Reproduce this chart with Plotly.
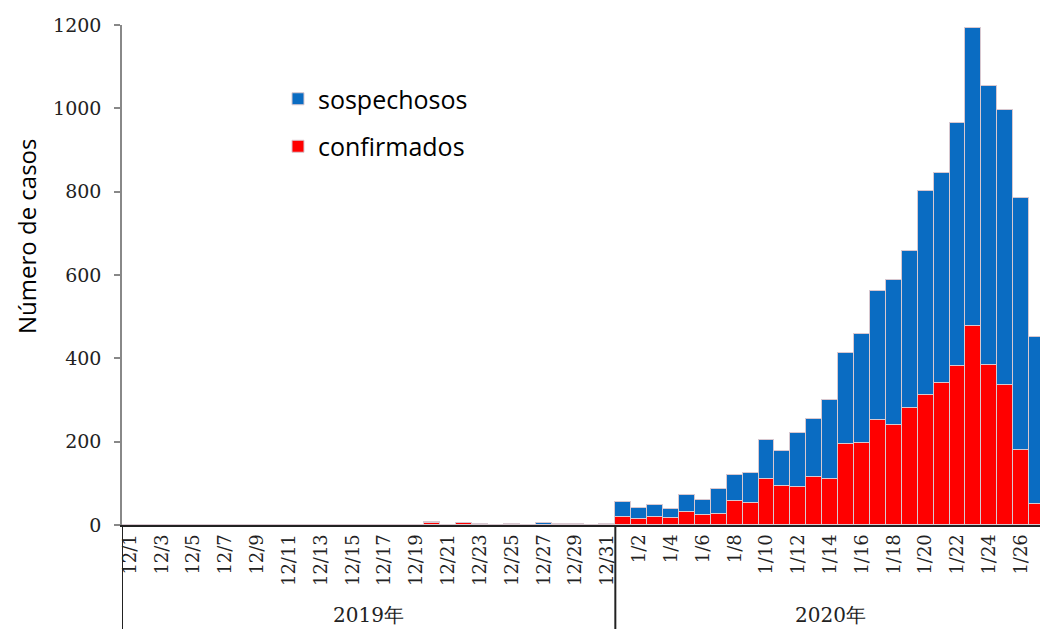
import plotly.graph_objects as go

# ---- data ----
fechas_2019 = [f"12/{d}" for d in range(1, 32)]
fechas_2020 = [f"1/{d}" for d in range(1, 28)]
fechas = fechas_2019 + fechas_2020

confirmados_2019 = [0]*19 + [6, 0, 5] + [0]*9
sospechosos_2019 = [0]*9 + [1] + [0]*4 + [1, 0, 1, 0, 0, 1, 0, 1, 2, 0, 2, 0, 6, 2, 2, 1, 2]

confirmados_2020 = [19, 14, 19, 17, 31, 24, 27, 58, 54, 110, 94, 92, 116, 110,
                    194, 198, 252, 240, 280, 312, 340, 382, 478, 384, 336, 180, 50]
sospechosos_2020 = [36, 28, 29, 22, 42, 37, 60, 62, 71, 94, 84, 128, 139, 190,
                    219, 260, 310, 348, 378, 490, 506, 582, 716, 670, 660, 604, 402]

confirmados = confirmados_2019 + confirmados_2020
sospechosos = sospechosos_2019 + sospechosos_2020

tick_labels = fechas[::2]
y_ticks = [0, 200, 400, 600, 800, 1000, 1200]
years = ["2019年", "2020年"]

BLUE = "#0a6cc2"
RED = "#ff0000"
EDGE = "#d8c8d0"

fig = go.Figure()
fig.add_trace(go.Bar(x=fechas, y=confirmados, name="confirmados",
                     marker=dict(color=RED, line=dict(color=EDGE, width=1)),
                     legendgroup="c", legendrank=2))
fig.add_trace(go.Bar(x=fechas, y=sospechosos, name="sospechosos",
                     marker=dict(color=BLUE, line=dict(color=EDGE, width=1)),
                     legendgroup="s", legendrank=1))

# page has an 8px body margin, so the figure is sized to fit the remaining area
fig.update_layout(
    width=1040, height=621,
    margin=dict(l=114, r=3, t=17, b=104),
    paper_bgcolor="white", plot_bgcolor="white",
    barmode="stack", bargap=0,
    showlegend=True,
    legend=dict(x=0.169, y=0.898, xanchor="left", yanchor="top",
                bgcolor="rgba(0,0,0,0)", traceorder="grouped",
                tracegroupgap=12,
                font=dict(family="Open Sans", size=25, color="black")),
    xaxis=dict(type="category", range=[-0.5, len(fechas) - 0.5],
               tickmode="array", tickvals=tick_labels, ticktext=tick_labels,
               tickangle=-90, ticks="", showgrid=False,
               showline=True, linecolor="#222222", linewidth=2,
               tickfont=dict(family="DejaVu Serif", size=18, color="#222222")),
    yaxis=dict(range=[0, 1200], tickvals=y_ticks, showgrid=False, zeroline=False,
               showline=True, linecolor="#888888", linewidth=1.5,
               ticks="outside", ticklen=6, tickcolor="#888888", tickwidth=1.5,
               ticklabelstandoff=9,
               tickfont=dict(family="DejaVu Serif", size=19, color="#222222")),
)

# y axis title
fig.add_annotation(text="Número de casos", xref="paper", yref="paper",
                   x=-0.104, y=0.578, xanchor="center", yanchor="middle",
                   textangle=-90, showarrow=False, borderpad=0,
                   font=dict(family="Open Sans", size=24, color="black"))

# year grouping lines and labels
n19 = len(fechas_2019)
bounds = [-0.5, n19 - 0.5, len(fechas) - 0.5]
for b in bounds:
    fig.add_shape(type="line", xref="x", yref="paper", x0=b, x1=b, y0=0, y1=-0.21,
                  line=dict(color="#222222", width=2))
for i, yr in enumerate(years):
    fig.add_annotation(text=yr, xref="x", yref="paper",
                       x=(bounds[i] + bounds[i + 1]) / 2, y=-0.18,
                       showarrow=False, yanchor="middle",
                       font=dict(family="DejaVu Serif", size=20, color="#222222"))

fig.write_html("out.html")
